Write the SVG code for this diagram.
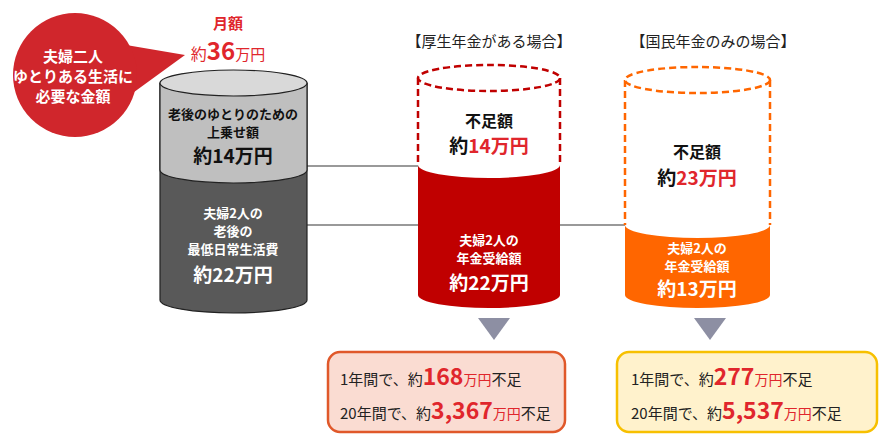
<svg xmlns="http://www.w3.org/2000/svg" width="886" height="441" viewBox="0 0 886 441">
<style>
text{font-family:"Noto Sans CJK JP","Liberation Sans",sans-serif;font-weight:bold;text-anchor:middle}
.w{fill:#fff}.k{fill:#111}.r{fill:#e0262c}.n{font-weight:normal;fill:#222}
</style>
<rect width="886" height="441" fill="#fff"/>
<g id="connectors" stroke="#777" stroke-width="1.5">
<line x1="307" y1="166" x2="418" y2="166"/>
<line x1="307" y1="225" x2="625" y2="225"/>
<polygon points="478,318 510,318 494,340" fill="#8d8fa3" stroke="none"/>
<polygon points="694,318 726,318 710,340" fill="#8d8fa3" stroke="none"/>
</g>
<g id="callout">
<path d="M38,30 L185,55 L130,95 Z" fill="#d0262c"/>
<circle cx="75" cy="75" r="62" fill="#d0262c"/>
<text x="73" y="62" class="w" font-size="15">夫婦二人</text>
<text x="73" y="82" class="w" font-size="15">ゆとりある生活に</text>
<text x="73" y="102" class="w" font-size="15">必要な金額</text>
</g>
<g id="monthly">
<text x="228" y="29" font-size="15" fill="#e0262c" font-weight="normal">月額</text>
<text x="228" y="60" fill="#e0262c"><tspan font-size="16" font-weight="normal">約</tspan><tspan font-size="24">36</tspan><tspan font-size="15" font-weight="normal">万円</tspan></text>
</g>
<g id="cyl1" stroke="#222" stroke-width="1.2">
<path d="M160,300 L160,83 A73.5,13 0 0 0 307,83 L307,300 A73.5,13 0 0 1 160,300 Z" fill="#595959"/>
<path d="M160,83 L160,170 A73.5,13 0 0 0 307,170 L307,83 Z" fill="#bfbfbf"/>
<ellipse cx="233.5" cy="83" rx="73.5" ry="13" fill="#d9d9d9"/>
<g stroke="none">
<text x="233" y="119" class="k" font-size="13">老後のゆとりのための</text>
<text x="233" y="137" class="k" font-size="13">上乗せ額</text>
<text x="233" y="163" class="k" font-size="19">約14万円</text>
<text x="233" y="218" class="w" font-size="13">夫婦2人の</text>
<text x="233" y="236" class="w" font-size="13">老後の</text>
<text x="233" y="254" class="w" font-size="13">最低日常生活費</text>
<text x="233" y="282" class="w" font-size="19">約22万円</text>
</g>
</g>
<g id="cyl2">
<text x="489" y="47" font-size="15" class="n">【厚生年金がある場合】</text>
<path d="M418,295 L418,165 A71,13 0 0 0 560,165 L560,295 A71,13 0 0 1 418,295 Z" fill="#c00000"/>
<path d="M418,78 L418,165 M560,78 L560,165" stroke="#c00000" stroke-width="2.5" stroke-dasharray="7,4" fill="none"/>
<ellipse cx="489" cy="78" rx="71" ry="13" fill="#fff" stroke="#c00000" stroke-width="2.5" stroke-dasharray="7,4"/>
<text x="489" y="127" class="k" font-size="16">不足額</text>
<text x="489" y="153" font-size="19"><tspan class="k">約</tspan><tspan class="r">14万円</tspan></text>
<text x="489" y="245" class="w" font-size="13">夫婦2人の</text>
<text x="489" y="263" class="w" font-size="13">年金受給額</text>
<text x="489" y="290" class="w" font-size="19">約22万円</text>
</g>
<g id="cyl3">
<text x="713" y="47" font-size="15" class="n">【国民年金のみの場合】</text>
<path d="M625,295 L625,225 A72.5,13 0 0 0 770,225 L770,295 A72.5,13 0 0 1 625,295 Z" fill="#ff6600"/>
<path d="M625,80 L625,225 M770,80 L770,225" stroke="#ff6600" stroke-width="2.5" stroke-dasharray="7,4" fill="none"/>
<ellipse cx="697.5" cy="80" rx="72.5" ry="13" fill="#fff" stroke="#ff6600" stroke-width="2.5" stroke-dasharray="7,4"/>
<text x="697" y="158" class="k" font-size="16">不足額</text>
<text x="697" y="185" font-size="19"><tspan class="k">約</tspan><tspan class="r">23万円</tspan></text>
<text x="697" y="253" class="w" font-size="13">夫婦2人の</text>
<text x="697" y="271" class="w" font-size="13">年金受給額</text>
<text x="697" y="296" class="w" font-size="19">約13万円</text>
</g>
<g id="box1">
<rect x="328" y="352" width="237" height="80" rx="12" fill="#fadcd2" stroke="#e0582a" stroke-width="2.5"/>
<text x="340" y="385" style="text-anchor:start"><tspan class="n" font-size="15">1年間で、約</tspan><tspan class="r" font-size="23">168</tspan><tspan class="r" font-size="14" font-weight="normal">万円</tspan><tspan class="n" font-size="15">不足</tspan></text>
<text x="340" y="419" style="text-anchor:start"><tspan class="n" font-size="15">20年間で、約</tspan><tspan class="r" font-size="23">3,367</tspan><tspan class="r" font-size="14" font-weight="normal">万円</tspan><tspan class="n" font-size="15">不足</tspan></text>
</g>
<g id="box2">
<rect x="617" y="352" width="260" height="80" rx="12" fill="#fff2cc" stroke="#f7c000" stroke-width="2.5"/>
<text x="631" y="385" style="text-anchor:start"><tspan class="n" font-size="15">1年間で、約</tspan><tspan class="r" font-size="23">277</tspan><tspan class="r" font-size="14" font-weight="normal">万円</tspan><tspan class="n" font-size="15">不足</tspan></text>
<text x="631" y="419" style="text-anchor:start"><tspan class="n" font-size="15">20年間で、約</tspan><tspan class="r" font-size="23">5,537</tspan><tspan class="r" font-size="14" font-weight="normal">万円</tspan><tspan class="n" font-size="15">不足</tspan></text>
</g>
</svg>
